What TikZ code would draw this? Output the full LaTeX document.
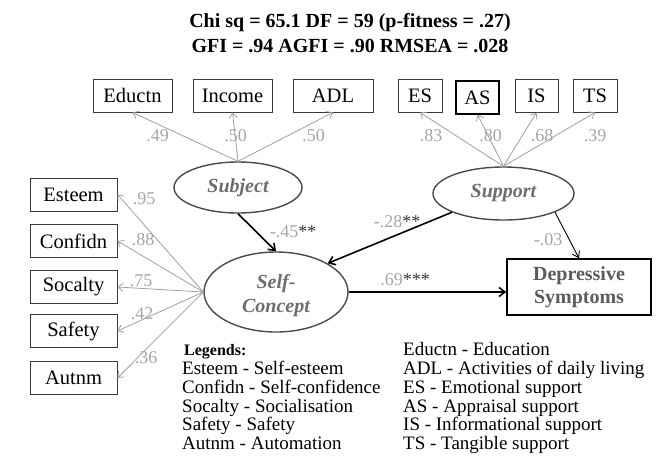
\documentclass[tikz,border=0pt]{standalone}
\usepackage{fontspec}
\setmainfont{Liberation Serif}
\usetikzlibrary{shapes.geometric,arrows.meta}
\definecolor{labc}{HTML}{A6A6A6}
\definecolor{measc}{HTML}{A0A0A0}
\definecolor{boxc}{HTML}{3A3A3A}
\definecolor{ellc}{HTML}{4A4A4A}
\definecolor{ltext}{HTML}{6E6E6E}
\definecolor{dtext}{HTML}{5C5C5C}
\definecolor{starc}{HTML}{333333}
\begin{document}
\begin{tikzpicture}[x=1pt,y=-1pt,
  obs/.style={rectangle, draw=boxc, line width=0.9pt, inner sep=0pt, minimum height=33pt, font=\fontsize{20.5}{22}\selectfont},
  lat/.style={ellipse, draw=ellc, line width=1.4pt, inner sep=0pt, text=ltext, align=center, font=\fontsize{20}{24}\selectfont\bfseries\itshape},
  lattext/.style={inner sep=0pt, text=ltext, align=center, font=\fontsize{20}{24}\selectfont\bfseries\itshape},
  meas/.style={draw=measc, line width=0.8pt, -{Straight Barb[length=5pt,width=8pt]}},
  struct/.style={draw=black, line width=1.6pt, -{Straight Barb[length=6pt,width=9pt]}},
  thinstruct/.style={draw=black, line width=0.9pt, -{Straight Barb[length=6pt,width=8pt]}},
  lbl/.style={text=labc, inner sep=0pt, font=\fontsize{18}{20}\selectfont},
  leg/.style={anchor=base west, inner sep=0pt, font=\fontsize{19}{21}\selectfont},
  ttl/.style={anchor=base, inner sep=0pt, font=\fontsize{20}{22}\selectfont\bfseries}]
\useasboundingbox[fill=white] (0,0) rectangle (656,459);

% title
\node[ttl] (t1) at (350,27) {Chi sq = 65.1 DF = 59 (p-fitness = .27)};
\node[ttl] (t2) at (350,52) {GFI = .94 AGFI = .90 RMSEA = .028};

% top observed boxes
\node[obs, minimum width=79pt] (educ) at (132.5,95.5) {Eductn};
\node[obs, minimum width=79pt] (inc) at (232.5,95.5) {Income};
\node[obs, minimum width=80pt] (adl) at (333,95.5) {ADL};
\node[obs, minimum width=44pt] (es) at (420,95.5) {ES};
\node[obs, minimum width=43pt, draw=black, line width=1.1pt] (as) at (477.5,97.5) {AS};
\node[obs, minimum width=43pt] (is) at (536.5,95.5) {IS};
\node[obs, minimum width=44pt] (ts) at (595,95.5) {TS};

% left observed boxes
\node[obs, minimum width=87pt] (est) at (73.5,194.5) {Esteem};
\node[obs, minimum width=87pt] (conf) at (73.5,241) {Confidn};
\node[obs, minimum width=87pt] (soc) at (73.5,287) {Socalty};
\node[obs, minimum width=87pt] (saf) at (73.5,331) {Safety};
\node[obs, minimum width=87pt] (aut) at (73.5,378) {Autnm};

% latent variables
\node[lat, minimum width=128pt, minimum height=51pt] (subj) at (238,187.5) {Subject};
\node[lat, minimum width=141pt, minimum height=53pt] (supp) at (503.5,193.5) {Support};
\node[lat, minimum width=144pt, minimum height=80pt] (self) at (276,292) {};
\node[lattext] (selftxt) at (276,296) {Self-\\Concept};

% outcome
\node[rectangle, draw=black, line width=1.4pt, inner sep=0pt, minimum width=144pt, minimum height=56pt, align=center, text=dtext, font=\fontsize{20}{23}\selectfont\bfseries] (dep) at (579,287) {Depressive\\Symptoms};

% measurement arrows
\draw[meas] (subj.north) -- (educ.south);
\draw[meas] (subj.north) -- (inc.south);
\draw[meas] (subj.north) -- (adl.south);
\draw[meas] (supp.north) -- (es.south);
\draw[meas] (supp.north) -- (as.south);
\draw[meas] (supp.north) -- (is.south);
\draw[meas] (supp.north) -- (ts.south);
\draw[meas] (self.west) -- (est.east);
\draw[meas] (self.west) -- (conf.east);
\draw[meas] (self.west) -- (soc.east);
\draw[meas] (self.west) -- (saf.east);
\draw[meas] (self.west) -- (aut.east);

% loading labels
\node[lbl] (l1) at (157.5,136) {.49};
\node[lbl] (l2) at (235.5,136) {.50};
\node[lbl] (l3) at (313.5,136) {.50};
\node[lbl] (l4) at (431,136) {.83};
\node[lbl] (l5) at (490.5,136) {.80};
\node[lbl] (l6) at (542,136) {.68};
\node[lbl] (l7) at (595,136) {.39};
\node[lbl] (l8) at (144,199) {.95};
\node[lbl] (l9) at (143,240) {.88};
\node[lbl] (l10) at (141,281) {.75};
\node[lbl] (l11) at (142,314) {.42};
\node[lbl] (l12) at (146,358) {.36};

% structural paths
\draw[struct] (subj.south) -- (self.north);
\draw[struct] (supp.200) -- (self.29);
\draw[thinstruct] (supp.-20) -- (dep.north);
\draw[struct] (self.east) -- (self.east -| dep.west);

\node[lbl] (p1) at (293,232) {-.45\textcolor{starc}{**}};
\node[lbl] (p2) at (397,222) {-.28\textcolor{starc}{**}};
\node[lbl] (p3) at (548,240) {-.03};
\node[lbl] (p4) at (405,280) {.69\textcolor{starc}{***}};

% legend
\node[leg, font=\fontsize{16}{18}\selectfont\bfseries] (lg0) at (184,355) {Legends:};
\node[leg] (lg1) at (182,374.5) {Esteem - Self-esteem};
\node[leg] (lg2) at (182,393.3) {Confidn - Self-confidence};
\node[leg] (lg3) at (182,412) {Socalty - Socialisation};
\node[leg] (lg4) at (182,430.8) {Safety - Safety};
\node[leg] (lg5) at (182,449.6) {Autnm - Automation};
\node[leg] (rg0) at (403,355) {Eductn - Education};
\node[leg] (rg1) at (403,374.5) {ADL - Activities of daily living};
\node[leg] (rg2) at (403,393.3) {ES - Emotional support};
\node[leg] (rg3) at (403,412) {AS - Appraisal support};
\node[leg] (rg4) at (403,430.8) {IS - Informational support};
\node[leg] (rg5) at (403,449.6) {TS - Tangible support};
\end{tikzpicture}
\end{document}
